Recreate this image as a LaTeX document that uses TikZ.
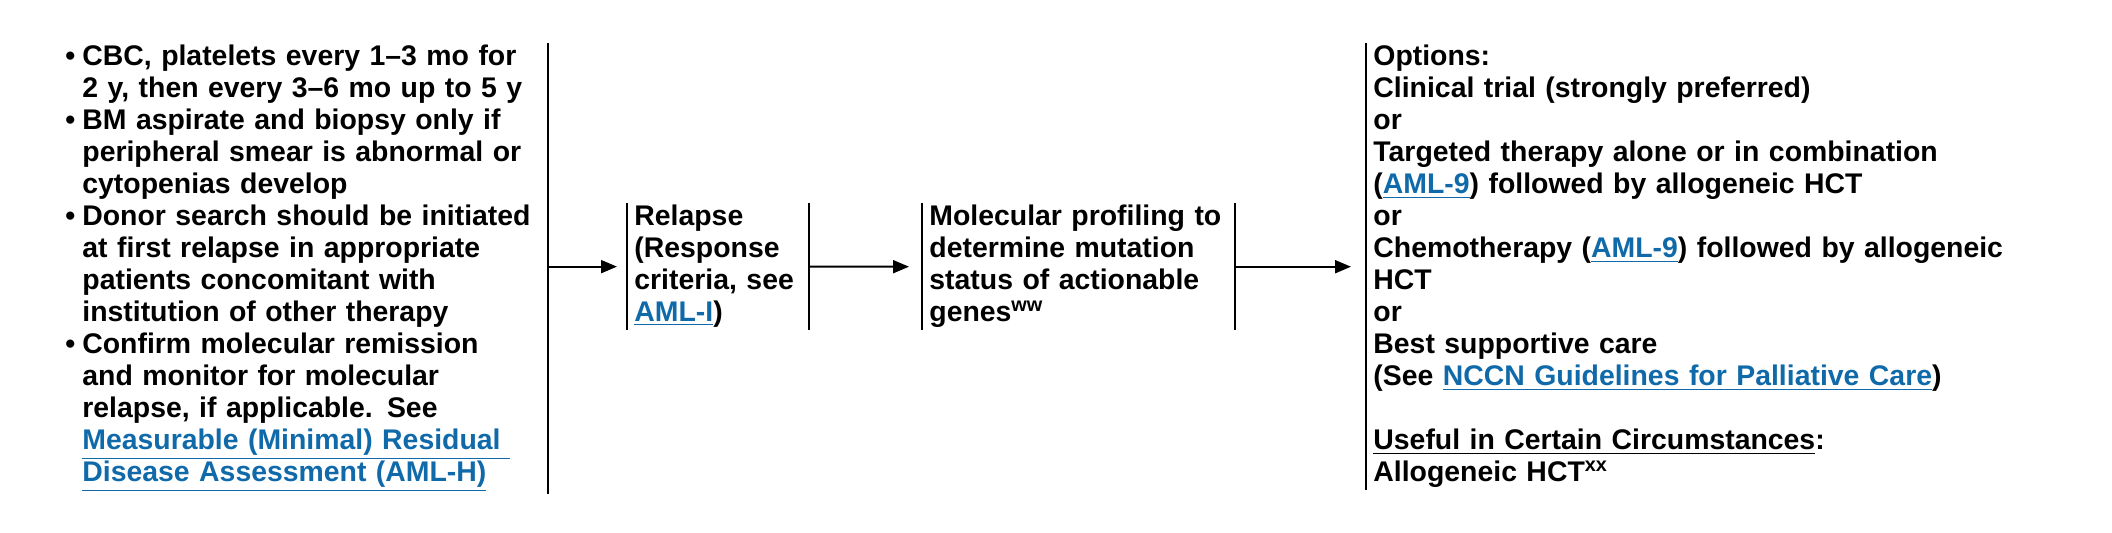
\documentclass[tikz,border=0pt]{standalone}
\usepackage{fontspec}
\setmainfont{Liberation Sans}
\usetikzlibrary{arrows.meta}
\definecolor{linkblue}{RGB}{16,106,170}
\newcommand{\lnk}[1]{\textcolor{linkblue}{\underline{#1}}}
\newcommand{\bul}{\llap{\textbullet\hspace{3.5pt}}}

\tikzset{
	col/.style={anchor=north west, inner ysep=1pt, align=left, font=\bfseries\fontsize{14.2}{16}\selectfont},
	bar/.style={line width=1pt},
	flow/.style={line width=1pt, -{Triangle[length=8pt,width=6.5pt]}}
}

\begin{document}
\begin{tikzpicture}[x=0.5pt,y=-0.5pt]
	\useasboundingbox (0,0) rectangle (2112,532);

	\node[col, inner xsep=0pt, text width=232.5pt] (followup) at (82,43) {%
		\mbox{\bul CBC, platelets every 1--3 mo for}\\
		\mbox{2 y, then every 3--6 mo up to 5 y}\\
		\mbox{\bul BM aspirate and biopsy only if}\\
		\mbox{peripheral smear is abnormal or}\\
		\mbox{cytopenias develop}\\
		\mbox{\bul Donor search should be initiated}\\
		\mbox{at first relapse in appropriate}\\
		\mbox{patients concomitant with}\\
		\mbox{institution of other therapy}\\
		\mbox{\bul Confirm molecular remission}\\
		\mbox{and monitor for molecular}\\
		\mbox{relapse, if applicable. See}\\
		\mbox{\lnk{Measurable (Minimal) Residual\ }}\\
		\mbox{\lnk{Disease Assessment (AML-H)}}};

	\node[col, inner xsep=3.5pt, text width=83.5pt] (relapse) at (627,203) {%
		\mbox{Relapse}\\
		\mbox{(Response}\\
		\mbox{criteria, see}\\
		\mbox{\lnk{AML-I})}};

	\node[col, inner xsep=3.5pt, text width=149pt] (profiling) at (922,203) {%
		\mbox{Molecular profiling to}\\
		\mbox{determine mutation}\\
		\mbox{status of actionable}\\
		\mbox{genes\textsuperscript{ww}}};

	\node[col, inner xsep=3.5pt, text width=340pt] (options) at (1366,43) {%
		Options:\\
		Clinical trial (strongly preferred)\\
		or\\
		Targeted therapy alone or in combination\\
		(\lnk{AML-9}) followed by allogeneic HCT\\
		or\\
		Chemotherapy (\lnk{AML-9}) followed by allogeneic\\
		HCT\\
		or\\
		Best supportive care\\
		(See \lnk{NCCN Guidelines for Palliative Care})\\
		\mbox{}\\
		\underline{Useful in Certain Circumstances}:\\
		Allogeneic HCT\textsuperscript{xx}};

	% side bars
	\draw[bar] (followup.north east) -- (followup.south east);
	\draw[bar] (relapse.north west) -- (relapse.south west);
	\draw[bar] (relapse.north east) -- (relapse.south east);
	\draw[bar] (profiling.north west) -- (profiling.south west);
	\draw[bar] (profiling.north east) -- (profiling.south east);
	\draw[bar] (options.north west) -- (options.south west);

	% arrows
	\draw[flow, shorten >=5pt] (followup.east |- relapse.west) -- (relapse.west);
	\draw[flow, shorten >=6.5pt] (relapse.east) -- (profiling.west);
	\draw[flow, shorten >=7.5pt] (profiling.east) -- (profiling.east -| options.west);
\end{tikzpicture}
\end{document}
